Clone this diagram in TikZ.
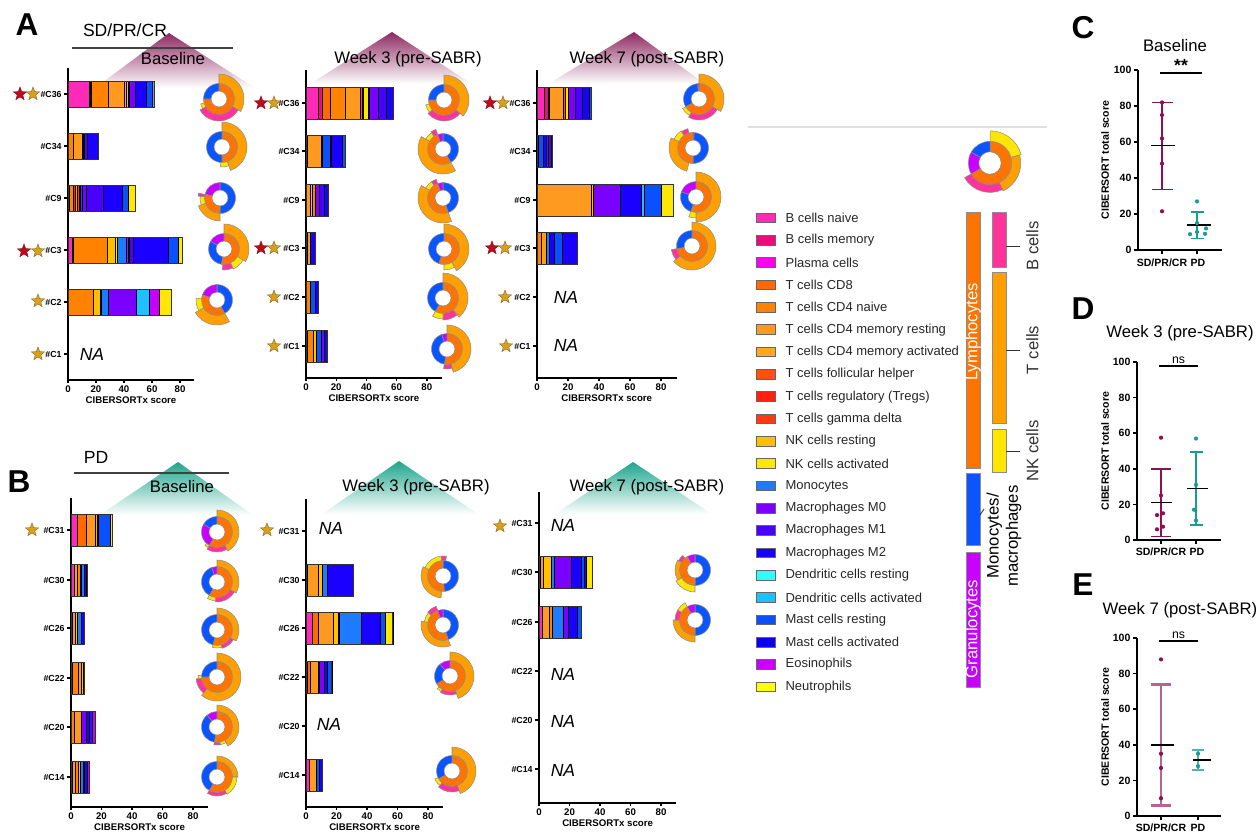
\documentclass[tikz,border=0pt]{standalone}
\usepackage{fontspec}
\setmainfont{Liberation Sans}
\usetikzlibrary{shapes.geometric,positioning}

\definecolor{bnaive}{HTML}{FF2BB8}
\definecolor{bmem}{HTML}{EE0A7C}
\definecolor{plasma}{HTML}{FF00F0}
\definecolor{tcdeight}{HTML}{FF6A00}
\definecolor{tnaive}{HTML}{FF8200}
\definecolor{tmemrest}{HTML}{FF9A20}
\definecolor{tmemact}{HTML}{FFA820}
\definecolor{tfh}{HTML}{FF5010}
\definecolor{treg}{HTML}{FF2010}
\definecolor{tgd}{HTML}{FF3A10}
\definecolor{nkrest}{HTML}{FFC000}
\definecolor{nkact}{HTML}{FFE800}
\definecolor{mono}{HTML}{1E7BFF}
\definecolor{mzero}{HTML}{7A00FF}
\definecolor{mone}{HTML}{4A00FF}
\definecolor{mtwo}{HTML}{1A00FF}
\definecolor{dcrest}{HTML}{30FFFF}
\definecolor{dcact}{HTML}{1EC0FF}
\definecolor{mastrest}{HTML}{0A50FF}
\definecolor{mastact}{HTML}{0C00EE}
\definecolor{eos}{HTML}{C800FF}
\definecolor{neut}{HTML}{FFFF00}
\definecolor{lymgrp}{HTML}{FF7300}
\definecolor{mongrp}{HTML}{0A55FF}
\definecolor{gragrp}{HTML}{C800FF}
\definecolor{bgrp}{HTML}{FF3399}
\definecolor{tgrp}{HTML}{FFA000}
\definecolor{nkgrp}{HTML}{FFE600}
\definecolor{starred}{HTML}{C00A1E}
\definecolor{stargold}{HTML}{D9A020}
\definecolor{tripurple}{HTML}{8E2A62}
\definecolor{triteal}{HTML}{1FA58C}
\definecolor{sdcol}{HTML}{8E0F52}
\definecolor{pdcol}{HTML}{189C94}

\tikzset{
  bseg/.style={draw=black, line width=0.35pt},
  bframe/.style={draw=black!80, line width=0.5pt},
  ring/.style={draw=black!45, line width=0.3pt},
  axisline/.style={line width=0.8pt},
  rowlab/.style={font=\fontsize{5}{6}\selectfont\bfseries, anchor=east, inner sep=1pt},
  ticklab/.style={font=\fontsize{5.5}{6}\selectfont\bfseries, anchor=north, inner sep=1pt},
  axlab/.style={font=\fontsize{5.5}{6}\selectfont\bfseries},
  natext/.style={font=\fontsize{10}{12}\selectfont\itshape},
  ptitle/.style={font=\fontsize{9.5}{11}\selectfont},
  grptitle/.style={font=\fontsize{10}{12}\selectfont},
  panel/.style={font=\fontsize{18}{20}\selectfont\bfseries},
  redstar/.style={star, star points=5, star point ratio=2.4, inner sep=0pt, minimum size=8pt, fill=starred, draw=starred!60!black, line width=0.2pt},
  goldstar/.style={redstar, fill=stargold, draw=stargold!60!black},
  legbox/.style={draw=black!60, line width=0.4pt, minimum width=10.5pt, minimum height=5.5pt, inner sep=0pt},
  legtxt/.style={font=\fontsize{7.4}{9}\selectfont, text=black!85, inner sep=0pt},
  grpbar/.style={draw=black!45, line width=0.4pt},
  grplab/.style={font=\fontsize{9.5}{11}\selectfont, rotate=90},
  inlab/.style={font=\fontsize{9.5}{11}\selectfont, rotate=90, text=white},
  paxis/.style={line width=0.9pt},
  ptick/.style={font=\fontsize{6}{7}\selectfont\bfseries, anchor=east, inner sep=1pt},
  pcat/.style={font=\fontsize{6}{7}\selectfont\bfseries, inner sep=0pt},
  pylab/.style={font=\fontsize{6}{7}\selectfont\bfseries, rotate=90},
  sdpt/.style={circle, fill=sdcol, inner sep=0pt, minimum size=2.4pt},
  pdpt/.style={sdpt, fill=pdcol},
  sderr/.style={sdcol, line width=0.9pt},
  sderrl/.style={sdcol!65, line width=1.4pt},
  pderr/.style={pdcol, line width=0.9pt},
  meanline/.style={black, line width=1pt},
  sigtxt/.style={font=\fontsize{7}{8}\selectfont, inner sep=1pt},
}

% stacked bar: axis x, px per unit, row y, half height, colour/width list
\newcommand\sbar[5]{%
  \xdef\barx{0}%
  \foreach \segc/\segw in {#5}{%
    \pgfmathsetmacro\barxe{\barx+\segw}%
    \draw[bseg, fill=\segc] ({#1+\barx*#2},{#3-#4}) rectangle ({#1+\barxe*#2},{#3+#4});%
    \xdef\barx{\barxe}}%
  \draw[bframe] (#1,{#3-#4}) rectangle ({#1+\barx*#2},{#3+#4});}

\newcommand\chartframe[5]{%
  \draw[axisline] (#1,#2) -- (#1,#3) -- ({#1+90*#4},#3);
  \foreach \tv in {0,20,...,80}
    \draw[axisline] ({#1+\tv*#4},#3) -- ++(0,3) node[ticklab] {\tv};
  \node[axlab] at ({#1+45*#4},{#3+20}) {CIBERSORTx score};
  \foreach \ry/\rl in {#5}
    \draw[axisline] (#1,\ry) -- ++(-4,0) node[rowlab] {\rl};}

\newcommand\donut[5]{%
  \begin{scope}[#1]
    \xdef\dang{#2}%
    \foreach \segc/\segw in {#3}{%
      \pgfmathsetmacro\dangb{\dang+\segw}%
      \path[ring, fill=\segc] (\dang:8) arc[start angle=\dang, end angle=\dangb, radius=8] -- (\dangb:15.5) arc[start angle=\dangb, end angle=\dang, radius=15.5] -- cycle;%
      \xdef\dang{\dangb}}%
    \xdef\dang{#4}%
    \foreach \segc/\segw/\segr in {#5}{%
      \pgfmathsetmacro\dangb{\dang+\segw}%
      \path[ring, fill=\segc] (\dang:15.5) arc[start angle=\dang, end angle=\dangb, radius=15.5] -- (\dangb:\segr+1) arc[start angle=\dangb, end angle=\dang, radius=\segr+1] -- cycle;%
      \xdef\dang{\dangb}}%
  \end{scope}}

\begin{document}
\begin{tikzpicture}[x=0.02cm, y=-0.02cm]
\useasboundingbox (0,0) rectangle (1257,835);

\shade[top color=tripurple, middle color=tripurple!30, bottom color=white] (169,33) -- (95,88) -- (255,88) -- cycle;
\shade[top color=tripurple, middle color=tripurple!30, bottom color=white] (392,32) -- (310,84) -- (472,84) -- cycle;
\shade[top color=tripurple, middle color=tripurple!30, bottom color=white] (634,32) -- (548,84) -- (705,84) -- cycle;
\shade[top color=triteal, middle color=triteal!30, bottom color=white] (178,462) -- (100,515) -- (253,515) -- cycle;
\shade[top color=triteal, middle color=triteal!30, bottom color=white] (399,461) -- (322,514) -- (478,514) -- cycle;
\shade[top color=triteal, middle color=triteal!30, bottom color=white] (633,462) -- (555,514) -- (712,514) -- cycle;

\node[panel] (pa) at (27,25) {A};
\node[panel] (pb) at (19,482) {B};
\node[panel] (pc) at (1083,28) {C};
\node[panel] (pd) at (1083,309) {D};
\node[panel] (pe) at (1083,585) {E};

\node[grptitle] (gsd) at (125,30) {SD/PR/CR};
\draw[black!75, line width=0.6pt] (72,48) -- (233,48);
\node[grptitle] (gpd) at (96,457) {PD};
\draw[black!75, line width=0.6pt] (74,473) -- (229,473);
\node[ptitle] (ta1) at (173,59) {Baseline};
\node[ptitle] (ta2) at (408,59) {Week 3 (pre-SABR)};
\node[ptitle] (ta3) at (647,59) {Week 7 (post-SABR)};
\node[ptitle] (tb1) at (182,487) {Baseline};
\node[ptitle] (tb2) at (416,487) {Week 3 (pre-SABR)};
\node[ptitle] (tb3) at (647,487) {Week 7 (post-SABR)};

\chartframe{68}{68}{380}{1.4}{94/\#C36,146/\#C34,198/\#C9,250/\#C3,302/\#C2,354/\#C1}
\chartframe{306}{70}{378}{1.51}{103/\#C36,151/\#C34,200/\#C9,248/\#C3,297/\#C2,346/\#C1}
\chartframe{537}{70}{378}{1.55}{103/\#C36,151/\#C34,200/\#C9,248/\#C3,297/\#C2,346/\#C1}
\chartframe{71}{498}{807}{1.525}{530/\#C31,580/\#C30,628/\#C26,678/\#C22,727/\#C20,777/\#C14}
\chartframe{306}{499}{807}{1.525}{531/\#C31,580/\#C30,628/\#C26,677/\#C22,726/\#C20,775/\#C14}
\chartframe{539}{492}{803}{1.525}{523/\#C31,572/\#C30,622/\#C26,671/\#C22,720/\#C20,769/\#C14}

\sbar{68}{1.4}{94}{13}{bnaive/15,bmem/1,plasma/1,tnaive/12,tmemrest/11,tmemact/2,nkrest/1,nkact/1,mzero/4,mtwo/8,mastrest/4,dcact/2}
\sbar{68}{1.4}{146}{13}{tnaive/4,tmemrest/6,tmemact/1,mzero/1,mone/2,mtwo/8}
\sbar{68}{1.4}{198}{13}{tcdeight/1,tnaive/3,treg/1,tmemrest/2,tgd/1,nkrest/1,mastrest/1,mzero/3,mone/12,mtwo/14,mastrest/4,nkact/5}
\sbar{68}{1.4}{250}{13}{bnaive/3,bmem/1,tnaive/24,nkrest/6,nkact/1,mono/7,eos/1,mzero/1,mone/3,mtwo/25,mastrest/7,nkact/3}
\sbar{68}{1.4}{302}{13}{tnaive/18,nkrest/5,nkact/1,mono/5,mzero/20,dcact/9,eos/7,nkact/9}

\sbar{306}{1.51}{103}{16}{bnaive/8,bmem/3,tcdeight/5,tnaive/10,tmemrest/10,tfh/1,treg/1,nkact/3,dcact/1,mzero/6,mone/5,mtwo/5}
\sbar{306}{1.51}{151}{16}{tnaive/1,tmemrest/9,mono/1,mastrest/5,mzero/1,mtwo/7,mastrest/2}
\sbar{306}{1.51}{200}{16}{tmemrest/3,nkrest/1,tnaive/2,mzero/3,mone/3,mtwo/3}
\sbar{306}{1.51}{248}{16}{tcdeight/1,tmemrest/2,mtwo/3}
\sbar{306}{1.51}{297}{16}{tnaive/3,mastrest/3,mtwo/2}
\sbar{306}{1.51}{346}{16}{bnaive/1,tnaive/4,nkrest/2,mastrest/3,mzero/2,mtwo/2}

\sbar{537}{1.55}{103}{16}{bnaive/5,bmem/2,tcdeight/1,tmemrest/9,tfh/1,nkact/2,mzero/5,mone/4,mtwo/5,mastrest/1}
\sbar{537}{1.55}{151}{16}{tnaive/1,mastrest/3,mtwo/2,mzero/1,mone/2,dcact/1}
\sbar{537}{1.55}{200}{16}{tmemrest/35,nkrest/1,mzero/18,mtwo/13,dcact/2,mastrest/11,nkact/8}
\sbar{537}{1.55}{248}{16}{tnaive/3,tmemrest/3,mono/2,mtwo/3,mastrest/5,mtwo/10}

\sbar{71}{1.525}{530}{16}{bnaive/4,tcdeight/6,tmemrest/6,tmemact/1,mzero/1,mastrest/8,nkact/1}
\sbar{71}{1.525}{580}{16}{bnaive/2,tmemrest/2,tnaive/2,tmemrest/1,mono/2,mtwo/1,dcact/1}
\sbar{71}{1.525}{628}{16}{tnaive/1,tmemrest/2,nkrest/1,mono/3,mtwo/2}
\sbar{71}{1.525}{678}{16}{bnaive/1,tnaive/4,tmemrest/2,nkrest/1,mtwo/1}
\sbar{71}{1.525}{727}{16}{tnaive/2,tmemrest/5,mzero/3,mtwo/2,mone/2,eos/2}
\sbar{71}{1.525}{777}{16}{bnaive/1,tmemrest/2,tnaive/2,nkrest/1,mono/2,mzero/1,mtwo/2,eos/1}

\sbar{306}{1.525}{580}{16}{bmem/1,tmemrest/7,nkrest/3,mono/3,mtwo/17}
\sbar{306}{1.525}{628}{16}{bnaive/4,tcdeight/4,tmemrest/10,nkrest/3,nkact/1,mono/14,mtwo/13,mastrest/3,nkact/5}
\sbar{306}{1.525}{677}{16}{bnaive/1,tcdeight/2,tmemrest/5,nkrest/1,mzero/3,mtwo/2,mastrest/3}
\sbar{306}{1.525}{775}{16}{bnaive/2,tmemrest/5,mastrest/2,mtwo/2}

\sbar{539}{1.525}{572}{16}{tcdeight/1,tmemrest/2,nkrest/5,mono/2,mzero/11,mtwo/7,mastrest/2,mtwo/1,nkact/4}
\sbar{539}{1.525}{622}{16}{bnaive/2,tmemrest/5,tnaive/2,mono/7,mzero/3,mtwo/6,mastrest/3}

\node[natext] (na1) at (92,354) {NA};
\node[natext] (na2) at (566,297) {NA};
\node[natext] (na3) at (566,345) {NA};
\node[natext] (na4) at (331,528) {NA};
\node[natext] (na5) at (329,724) {NA};
\node[natext] (na6) at (563,525) {NA};
\node[natext] (na7) at (563,674) {NA};
\node[natext] (na8) at (563,721) {NA};
\node[natext] (na9) at (563,770) {NA};

\node[redstar] (sa36r) at (20,94) {};
\node[goldstar] (sa36g) at (33,94) {};
\node[redstar] (sa3r) at (24,251) {};
\node[goldstar] (sa3g) at (38,251) {};
\node[goldstar] (sa2g) at (38,301) {};
\node[goldstar] (sa1g) at (38,354) {};
\node[redstar] (sb36r) at (261,103) {};
\node[goldstar] (sb36g) at (274,103) {};
\node[redstar] (sb3r) at (261,248) {};
\node[goldstar] (sb3g) at (274,248) {};
\node[goldstar] (sb2g) at (274,297) {};
\node[goldstar] (sb1g) at (274,346) {};
\node[redstar] (sc36r) at (490,103) {};
\node[goldstar] (sc36g) at (503,103) {};
\node[redstar] (sc3r) at (492,248) {};
\node[goldstar] (sc3g) at (505,248) {};
\node[goldstar] (sc2g) at (505,297) {};
\node[goldstar] (sc1g) at (506,346) {};
\node[goldstar] (sd31g) at (32,530) {};
\node[goldstar] (se31g) at (267,530) {};
\node[goldstar] (sf31g) at (500,526) {};

\donut{shift={(219,99)}}{-90}{lymgrp/270,mongrp/90}{-90}{tgrp/120/24,bgrp/120/21,nkgrp/15/18}
\donut{shift={(222,147)}}{-90}{lymgrp/180,mongrp/180}{-90}{tgrp/160/24,nkgrp/25/19}
\donut{shift={(220,198)}}{-90}{mongrp/180,lymgrp/105,gragrp/75}{90}{tgrp/70/22,nkgrp/25/19,bgrp/8/21}
\donut{shift={(224,249)}}{-90}{lymgrp/190,mongrp/110,gragrp/60}{-90}{tgrp/120/24,nkgrp/35/21,bgrp/30/20}
\donut{shift={(217,300)}}{-90}{mongrp/150,lymgrp/140,gragrp/70}{60}{tgrp/90/24,nkgrp/35/20}

\donut{shift={(444,100)}}{-90}{lymgrp/270,mongrp/90}{-90}{tgrp/130/24,bgrp/100/20,nkgrp/25/18}
\donut{shift={(443,149)}}{-90}{mongrp/150,lymgrp/190,gragrp/20}{60}{tgrp/150/24,nkgrp/25/19,bgrp/15/20}
\donut{shift={(443,198)}}{-90}{mongrp/160,lymgrp/180,gragrp/20}{70}{tgrp/140/24,nkgrp/25/19,bgrp/15/19}
\donut{shift={(444,249)}}{-90}{lymgrp/200,mongrp/160}{-90}{tgrp/150/24,nkgrp/30/20}
\donut{shift={(443,298)}}{-90}{lymgrp/210,mongrp/150}{-90}{tgrp/140/24,bgrp/40/21,nkgrp/30/20}
\donut{shift={(447,349)}}{-90}{lymgrp/190,mongrp/150,gragrp/20}{-90}{tgrp/165/23,bgrp/25/19}

\donut{shift={(699,99)}}{-90}{lymgrp/240,mongrp/115,gragrp/5}{-90}{tgrp/120/24,bgrp/90/20,nkgrp/30/18}
\donut{shift={(693,148)}}{-90}{gragrp/5,mongrp/175,lymgrp/180}{105}{tgrp/100/23,nkgrp/30/20,bgrp/20/19}
\donut{shift={(696,197)}}{-90}{lymgrp/200,mongrp/90,gragrp/70}{-90}{tgrp/180/24,nkgrp/20/20}
\donut{shift={(692,246)}}{-90}{lymgrp/260,mongrp/100}{-90}{tgrp/230/23,bgrp/30/20}

\donut{shift={(217,532)}}{-90}{lymgrp/210,gragrp/90,mongrp/60}{-90}{tgrp/150/21,bgrp/60/19,nkgrp/12/17}
\donut{shift={(217,582)}}{-90}{lymgrp/210,mongrp/130,gragrp/20}{-90}{tgrp/120/21,bgrp/65/19,nkgrp/25/18}
\donut{shift={(217,630)}}{-90}{lymgrp/195,mongrp/165}{-90}{tgrp/120/21,bgrp/45/18,nkgrp/30/17}
\donut{shift={(217,677)}}{-90}{lymgrp/270,mongrp/90}{-90}{tgrp/220/23,bgrp/45/20,nkgrp/10/18}
\donut{shift={(217,727)}}{-90}{lymgrp/190,mongrp/130,gragrp/40}{-90}{tgrp/150/21,nkgrp/20/17,bgrp/20/17}
\donut{shift={(217,777)}}{-90}{lymgrp/210,mongrp/150}{-90}{tgrp/90/20,nkgrp/60/19,bgrp/60/18}

\donut{shift={(443,576)}}{-90}{mongrp/175,lymgrp/185}{95}{tgrp/110/21,nkgrp/60/19,bgrp/15/19}
\donut{shift={(443,625)}}{-90}{mongrp/160,lymgrp/180,gragrp/20}{70}{tgrp/120/21,nkgrp/30/18,bgrp/30/19}
\donut{shift={(450,676)}}{-90}{lymgrp/240,mongrp/80,gragrp/40}{-90}{tgrp/160/23,bgrp/50/18,nkgrp/15/17}
\donut{shift={(452,771)}}{-90}{lymgrp/240,mongrp/120}{-90}{tgrp/160/23,bgrp/60/20,nkgrp/25/18}

\donut{shift={(695,570)}}{-90}{mongrp/180,lymgrp/150,gragrp/30}{90}{nkgrp/60/21,tgrp/60/19,bgrp/20/18}
\donut{shift={(695,620)}}{-90}{mongrp/180,lymgrp/150,gragrp/30}{90}{tgrp/90/21,bgrp/30/19,nkgrp/30/19}

\draw[black!12, line width=1pt] (748,127) -- (1047,127);
\donut{shift={(990,163)},scale=1.4}{-90}{lymgrp/240,gragrp/60,mongrp/60}{-90}{nkgrp/75/22,tgrp/80/21,bgrp/85/20}

\foreach \col/\txt [count=\idx] in {bnaive/B cells naive, bmem/B cells memory, plasma/Plasma cells, tcdeight/T cells CD8, tnaive/T cells CD4 naive, tmemrest/T cells CD4 memory resting, tmemact/T cells CD4 memory activated, tfh/T cells follicular helper, treg/T cells regulatory (Tregs), tgd/T cells gamma delta, nkrest/NK cells resting, nkact/NK cells activated, mono/Monocytes, mzero/Macrophages M0, mone/Macrophages M1, mtwo/Macrophages M2, dcrest/Dendritic cells resting, dcact/Dendritic cells activated, mastrest/Mast cells resting, mastact/Mast cells activated, eos/Eosinophils, neut/Neutrophils}{
  \node[legbox, fill=\col] (lb\idx) at (766,{218+(\idx-1)*22.33}) {};
  \node[legtxt, right=5.5pt of lb\idx] (lt\idx) {\txt};
}

\draw[grpbar, fill=lymgrp] (966,212) rectangle (980,468);
\node[inlab] (lymtxt) at (973,332) {Lymphocytes};
\draw[grpbar, fill=mongrp] (966,473) rectangle (980,545);
\draw[grpbar, fill=gragrp] (966,552) rectangle (980,687);
\node[inlab] (gratxt) at (973,629) {Granulocytes};
\draw[grpbar, fill=bgrp] (992,212) rectangle (1006,267);
\draw[grpbar, fill=tgrp] (992,272) rectangle (1006,423);
\draw[grpbar, fill=nkgrp] (992,429) rectangle (1006,472);
\coordinate (btick) at (1006,246);
\coordinate (ttick) at (1006,350);
\coordinate (nktick) at (1006,451);
\coordinate (montick) at (980,515);
\draw[black!80, line width=0.5pt] (btick) -- ++(14,0) node[grplab, anchor=north] (blab) {B cells};
\draw[black!80, line width=0.5pt] (ttick) -- ++(14,0) node[grplab, anchor=north] (tlab) {T cells};
\draw[black!80, line width=0.5pt] (nktick) -- ++(14,0) node[grplab, anchor=north] (nklab) {NK cells};
\node[grplab, align=center] (monlab) at (1004,536) {Monocytes/\\macrophages};
\draw[black!80, line width=0.5pt] (montick) -- (984,509);

\node[ptitle] (tc) at (1175,46) {Baseline};
\begin{scope}[shift={(1138,250)}, yscale=-1.8]
  \draw[paxis] (0,100) -- (0,0) -- (84,0);
  \foreach \tv in {0,20,...,100} \draw[paxis] (0,\tv) -- (-4,\tv) node[ptick] {\tv};
  \draw[paxis] (24,0) -- (24,-2) (59,0) -- (59,-2);
  \node[pcat] (csd) at (24,-7) {SD/PR/CR};
  \node[pcat] (cpd) at (60,-7) {PD};
  \node[pylab] (cyl) at (-33,50) {CIBERSORT total score};
  \draw[sderr] (24,33.5) -- (24,82) (14,82) -- (35,82) (14,33.5) -- (35,33.5);
  \draw[pderr] (59,6.5) -- (59,21) (53,21) -- (66,21) (53,6.5) -- (66,6.5);
  \draw[meanline] (13,58) -- (37,58) (49,14) -- (73,14);
  \foreach \tv in {82,75,62,48,21.5} \node[sdpt] at (24,\tv) {};
  \foreach \px/\tv in {59/27,59/15,68/12,59/10,52/8.8,67/9} \node[pdpt] at (\px,\tv) {};
  \draw[line width=1pt] (22,98.3) -- (64,98.3) node[midway, above, font=\fontsize{10}{10}\selectfont\bfseries, inner sep=0.5pt] (csig) {**};
\end{scope}

\node[ptitle] (td) at (1180,333) {Week 3 (pre-SABR)};
\begin{scope}[shift={(1137,540)}, yscale=-1.78]
  \draw[paxis] (0,100) -- (0,0) -- (84,0);
  \foreach \tv in {0,20,...,100} \draw[paxis] (0,\tv) -- (-4,\tv) node[ptick] {\tv};
  \draw[paxis] (24,0) -- (24,-2) (59,0) -- (59,-2);
  \node[pcat] (dsd) at (24,-6.5) {SD/PR/CR};
  \node[pcat] (dpd) at (60,-6.5) {PD};
  \node[pylab] (dyl) at (-32,50) {CIBERSORT total score};
  \draw[sderr] (24,2) -- (24,40) (14,40) -- (34,40) (14,2) -- (34,2);
  \draw[pderr] (59,8.5) -- (59,49.5) (53,49.5) -- (66,49.5) (53,8.5) -- (66,8.5);
  \draw[meanline, line width=0.8pt] (14,21) -- (35,21) (50,29) -- (71,29);
  \foreach \px/\tv in {24/57.5,24/25,26/15,20/14,26/7.5,20/6} \node[sdpt] at (\px,\tv) {};
  \foreach \px/\tv in {59/57,59/31,57/17,59/11} \node[pdpt] at (\px,\tv) {};
  \draw[line width=0.8pt] (22,97.8) -- (61,97.8) node[midway, above, sigtxt] (dsig) {ns};
\end{scope}

\node[ptitle] (te) at (1180,610) {Week 7 (post-SABR)};
\begin{scope}[shift={(1137,816)}, yscale=-1.78]
  \draw[paxis] (0,100) -- (0,0) -- (84,0);
  \foreach \tv in {0,20,...,100} \draw[paxis] (0,\tv) -- (-4,\tv) node[ptick] {\tv};
  \draw[paxis] (24,0) -- (24,-2) (61,0) -- (61,-2);
  \node[pcat] (esd) at (24,-6.5) {SD/PR/CR};
  \node[pcat] (epd) at (61,-6.5) {PD};
  \node[pylab] (eyl) at (-32,50) {CIBERSORT total score};
  \draw[sderrl] (24,6) -- (24,74) (14,74) -- (34,74) (14,6) -- (34,6);
  \draw[pderr, pdcol!75, line width=1.2pt] (61,26) -- (61,37) (55,37) -- (67,37) (55,26) -- (67,26);
  \draw[meanline, line width=0.8pt] (14,40) -- (37,40) (56,31.5) -- (74,31.5);
  \foreach \tv in {88,35,27,10} \node[sdpt] at (24,\tv) {};
  \foreach \tv in {35,28} \node[pdpt] at (61,\tv) {};
  \draw[line width=0.8pt] (22,98.3) -- (61,98.3) node[midway, above, sigtxt] (esig) {ns};
\end{scope}
\end{tikzpicture}
\end{document}
